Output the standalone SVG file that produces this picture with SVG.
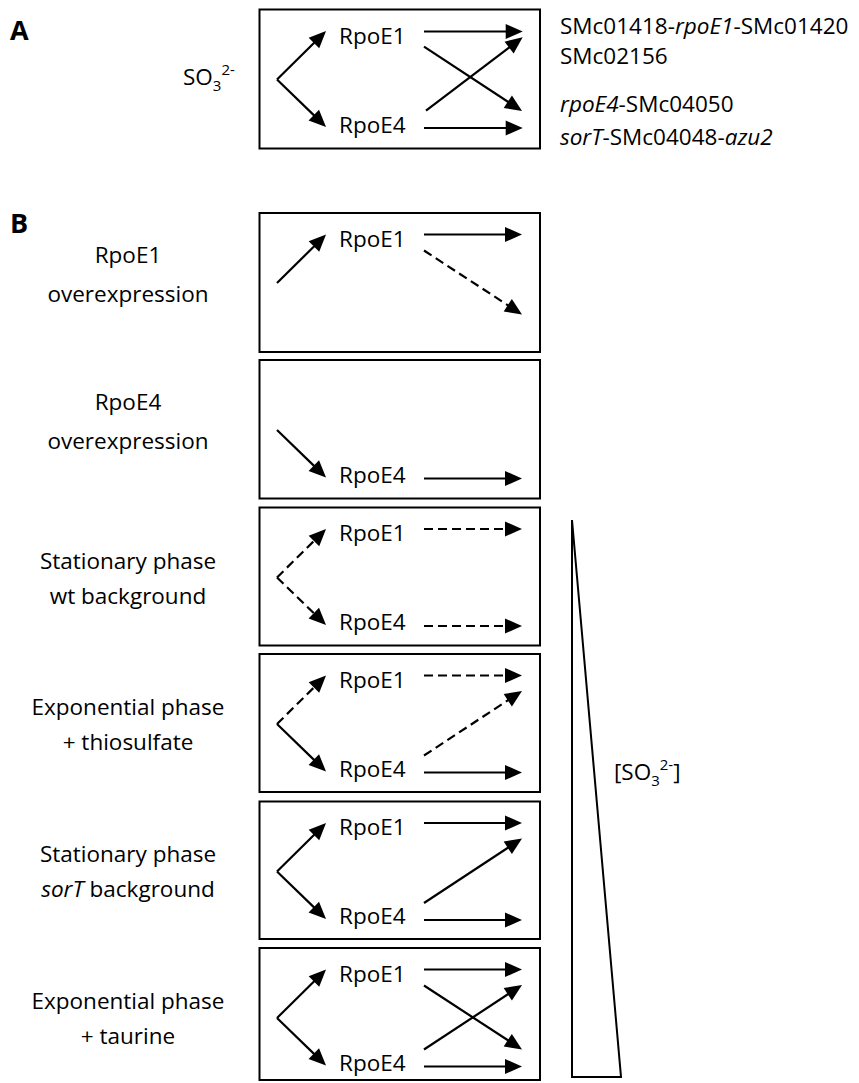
<svg xmlns="http://www.w3.org/2000/svg" width="859" height="1083" viewBox="0 0 859 1083">
<style>
.box{fill:none;stroke:#000;stroke-width:2}
.ln{fill:none;stroke:#000;stroke-width:2.2;marker-end:url(#ah)}
.d{stroke-dasharray:9 5}
.t{font-family:"Open Sans","Liberation Sans",sans-serif;font-size:22.5px;fill:#000}
.lab{font-family:"Open Sans","Liberation Sans",sans-serif;font-size:22.5px;fill:#000;text-anchor:middle}
.pl{font-family:"Open Sans","Liberation Sans",sans-serif;font-size:27px;font-weight:bold;fill:#000}
.i{font-style:italic}
</style>
<defs>
<marker id="ah" markerUnits="userSpaceOnUse" markerWidth="17" markerHeight="15" refX="5" refY="7.5" orient="auto" overflow="visible">
<path d="M0,0 L17,7.5 L0,15 z" fill="#000"/>
</marker>
</defs>
<rect width="859" height="1083" fill="#fff"/>

<g id="panelA-label"><text class="pl" x="10" y="40">A</text></g>
<g id="panelB-label"><text class="pl" x="10" y="233">B</text></g>

<g id="nodeA">
<rect class="box" x="259.5" y="9.5" width="280.5" height="139"/>
<text class="t" x="183" y="85">SO<tspan font-size="15" dy="6">3</tspan><tspan font-size="15" dy="-16">2-</tspan></text>
<text class="t" x="339" y="44">RpoE1</text>
<text class="t" x="339" y="133">RpoE4</text>
<text class="t" x="560" y="34">SMc01418-<tspan class="i">rpoE1</tspan>-SMc01420</text>
<text class="t" x="560" y="64">SMc02156</text>
<text class="t" x="560" y="112"><tspan class="i">rpoE4</tspan>-SMc04050</text>
<text class="t" x="560" y="145"><tspan class="i">sorT</tspan>-SMc04048-<tspan class="i">azu2</tspan></text>
</g>

<g id="nodeB1">
<rect class="box" x="259.5" y="213" width="280.5" height="139"/>
<text class="lab" x="128" y="263">RpoE1</text>
<text class="lab" x="128" y="302">overexpression</text>
<text class="t" x="339" y="246.5">RpoE1</text>
</g>
<g id="nodeB2">
<rect class="box" x="259.5" y="360" width="280.5" height="138.5"/>
<text class="lab" x="128" y="410">RpoE4</text>
<text class="lab" x="128" y="449">overexpression</text>
<text class="t" x="339" y="482.5">RpoE4</text>
</g>
<g id="nodeB3">
<rect class="box" x="259.5" y="507.5" width="280.5" height="138"/>
<text class="lab" x="128" y="568.5">Stationary phase</text>
<text class="lab" x="128" y="603.5">wt background</text>
<text class="t" x="339" y="541">RpoE1</text>
<text class="t" x="339" y="630">RpoE4</text>
</g>
<g id="nodeB4">
<rect class="box" x="259.5" y="654" width="280.5" height="138"/>
<text class="lab" x="128" y="715">Exponential phase</text>
<text class="lab" x="128" y="750">+ thiosulfate</text>
<text class="t" x="339" y="687.5">RpoE1</text>
<text class="t" x="339" y="776.5">RpoE4</text>
</g>
<g id="nodeB5">
<rect class="box" x="259.5" y="801.5" width="280.5" height="137.5"/>
<text class="lab" x="128" y="862">Stationary phase</text>
<text class="lab" x="128" y="897"><tspan class="i">sorT</tspan> background</text>
<text class="t" x="339" y="835">RpoE1</text>
<text class="t" x="339" y="924">RpoE4</text>
</g>
<g id="nodeB6">
<rect class="box" x="259.5" y="948" width="280.5" height="132"/>
<text class="lab" x="128" y="1009">Exponential phase</text>
<text class="lab" x="128" y="1044">+ taurine</text>
<text class="t" x="339" y="981.5">RpoE1</text>
<text class="t" x="339" y="1070.5">RpoE4</text>
</g>

<g id="gradient">
<polygon points="572,520 572,1077 621,1077" fill="none" stroke="#000" stroke-width="2" stroke-linejoin="miter"/>
<text class="t" x="614" y="780">[SO<tspan font-size="15" dy="6">3</tspan><tspan font-size="15" dy="-16">2-</tspan><tspan dy="10">]</tspan></text>
</g>

<g id="connectors">
<g transform="translate(0,9.5)">
<line class="ln" x1="277" y1="70" x2="317.5" y2="29.95"/>
<line class="ln" x1="277" y1="70" x2="317.4" y2="109.1"/>
<line class="ln" x1="424" y1="22" x2="510.7" y2="22"/>
<line class="ln" x1="424" y1="118.5" x2="510.7" y2="118.5"/>
<line class="ln" x1="424" y1="37.2" x2="512" y2="94.9"/>
<line class="ln" x1="426" y1="101.2" x2="513.1" y2="35.1"/>
</g>
<g transform="translate(0,213)">
<line class="ln" x1="277" y1="70" x2="317.5" y2="29.95"/>
<line class="ln" x1="424" y1="21.5" x2="510" y2="21.5"/>
<line class="ln d" x1="424" y1="37.5" x2="511.95" y2="94.94"/>
</g>
<g transform="translate(0,360)">
<line class="ln" x1="277" y1="70" x2="317.4" y2="109.1"/>
<line class="ln" x1="424" y1="118.5" x2="510" y2="118.5"/>
</g>
<g transform="translate(0,507.5)">
<line class="ln d" x1="277" y1="70" x2="317.5" y2="29.95"/>
<line class="ln d" x1="277" y1="70" x2="317.4" y2="109.1"/>
<line class="ln d" x1="424" y1="21.5" x2="510" y2="21.5"/>
<line class="ln d" x1="424" y1="118.5" x2="510" y2="118.5"/>
</g>
<g transform="translate(0,654)">
<line class="ln d" x1="277" y1="70" x2="317.5" y2="29.95"/>
<line class="ln" x1="277" y1="70" x2="317.4" y2="109.1"/>
<line class="ln d" x1="424" y1="21.5" x2="510" y2="21.5"/>
<line class="ln d" x1="424" y1="101.5" x2="511.98" y2="43.6"/>
<line class="ln" x1="424" y1="118.5" x2="510" y2="118.5"/>
</g>
<g transform="translate(0,801.5)">
<line class="ln" x1="277" y1="70" x2="317.5" y2="29.95"/>
<line class="ln" x1="277" y1="70" x2="317.4" y2="109.1"/>
<line class="ln" x1="424" y1="21.5" x2="510" y2="21.5"/>
<line class="ln" x1="424" y1="101.5" x2="511.98" y2="43.6"/>
<line class="ln" x1="424" y1="118.5" x2="510" y2="118.5"/>
</g>
<g transform="translate(0,948)">
<line class="ln" x1="277" y1="70" x2="317.5" y2="29.95"/>
<line class="ln" x1="277" y1="70" x2="317.4" y2="109.1"/>
<line class="ln" x1="424" y1="21.5" x2="510" y2="21.5"/>
<line class="ln" x1="424" y1="37.5" x2="511.95" y2="94.94"/>
<line class="ln" x1="424" y1="101.5" x2="511.98" y2="43.6"/>
<line class="ln" x1="424" y1="118.5" x2="510" y2="118.5"/>
</g>
</g>
</svg>
